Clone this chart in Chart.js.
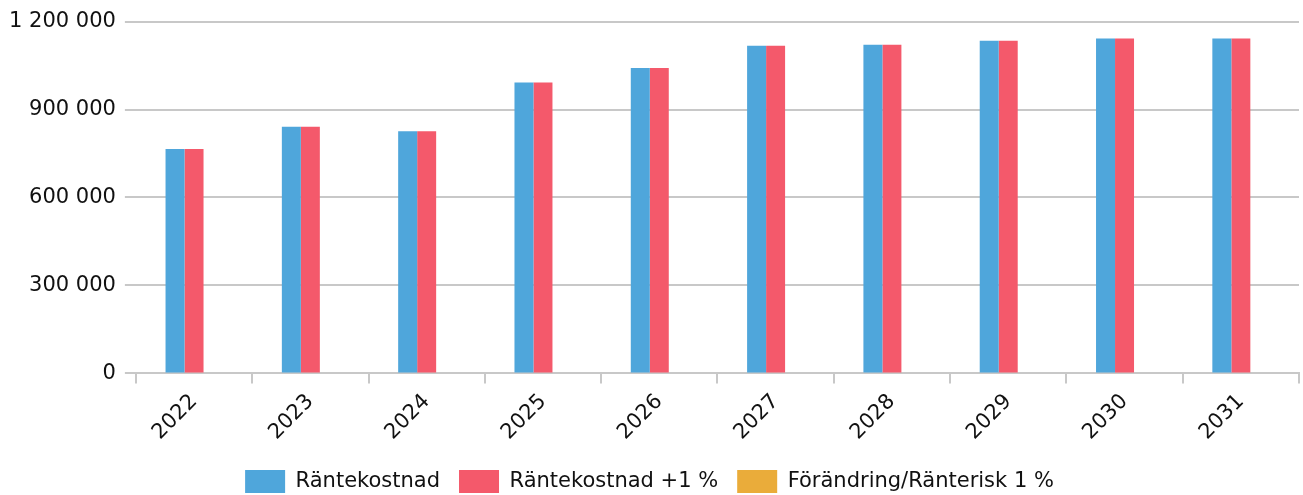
<!DOCTYPE html>
<html>
<head>
<meta charset="utf-8">
<script src="https://cdn.jsdelivr.net/npm/chart.js@4"></script>
<style>
  html, body { margin: 0; padding: 0; background: #fff; }
  #wrap { width: 1303px; height: 495px; }
</style>
</head>
<body>
<div id="wrap"><canvas id="rantChart"></canvas></div>
<script>
const years = ['2022', '2023', '2024', '2025', '2026', '2027', '2028', '2029', '2030', '2031'];
const rantekostnad = [765000, 841000, 826000, 992000, 1042000, 1118000, 1121000, 1135000, 1142000, 1142000];
const rantekostnadPlus1 = [765000, 841000, 826000, 992000, 1042000, 1118000, 1121000, 1135000, 1142000, 1142000];
const forandring = [0, 0, 0, 0, 0, 0, 0, 0, 0, 0];

function fmt(v) {
    return String(v).replace(/\B(?=(\d{3})+(?!\d))/g, '\u00a0');
}

Chart.defaults.font.family = 'DejaVu Sans';
Chart.defaults.font.size = 21;
Chart.defaults.color = '#111';

let ctx = document.getElementById('rantChart').getContext('2d');
let rantChart = new Chart(ctx, {
    type: 'bar',
    data: {
        labels: years,
        datasets: [
            { label: 'Räntekostnad', data: rantekostnad, backgroundColor: '#4fa6db' },
            { label: 'Räntekostnad +1 %', data: rantekostnadPlus1, backgroundColor: '#f4596b' },
            { label: 'Förändring/Ränterisk 1 %', data: forandring, backgroundColor: '#eaac3a' }
        ]
    },
    options: {
        animation: false,
        responsive: true,
        maintainAspectRatio: false,
        layout: { padding: { top: 6, right: 4, left: 0, bottom: -8 } },
        datasets: { bar: { barPercentage: 1, categoryPercentage: 0.49 } },
        plugins: {
            tooltip: { enabled: false },
            legend: {
                position: 'bottom',
                labels: { boxWidth: 40, boxHeight: 23, padding: 19, font: { size: 21 }, color: '#111' }
            }
        },
        scales: {
            x: {
                grid: { drawOnChartArea: false, drawTicks: true, tickLength: 10, color: '#c8c8c8', lineWidth: 2 },
                border: { color: '#c8c8c8', width: 2 },
                ticks: { maxRotation: 45, minRotation: 45, padding: 6, font: { size: 21 } }
            },
            y: {
                min: 0,
                max: 1200000,
                grid: { color: '#c8c8c8', lineWidth: 2, tickLength: 11 },
                border: { display: false },
                ticks: { stepSize: 300000, padding: 9, font: { size: 21 }, callback: v => fmt(v) }
            }
        }
    }
});
</script>
</body>
</html>
